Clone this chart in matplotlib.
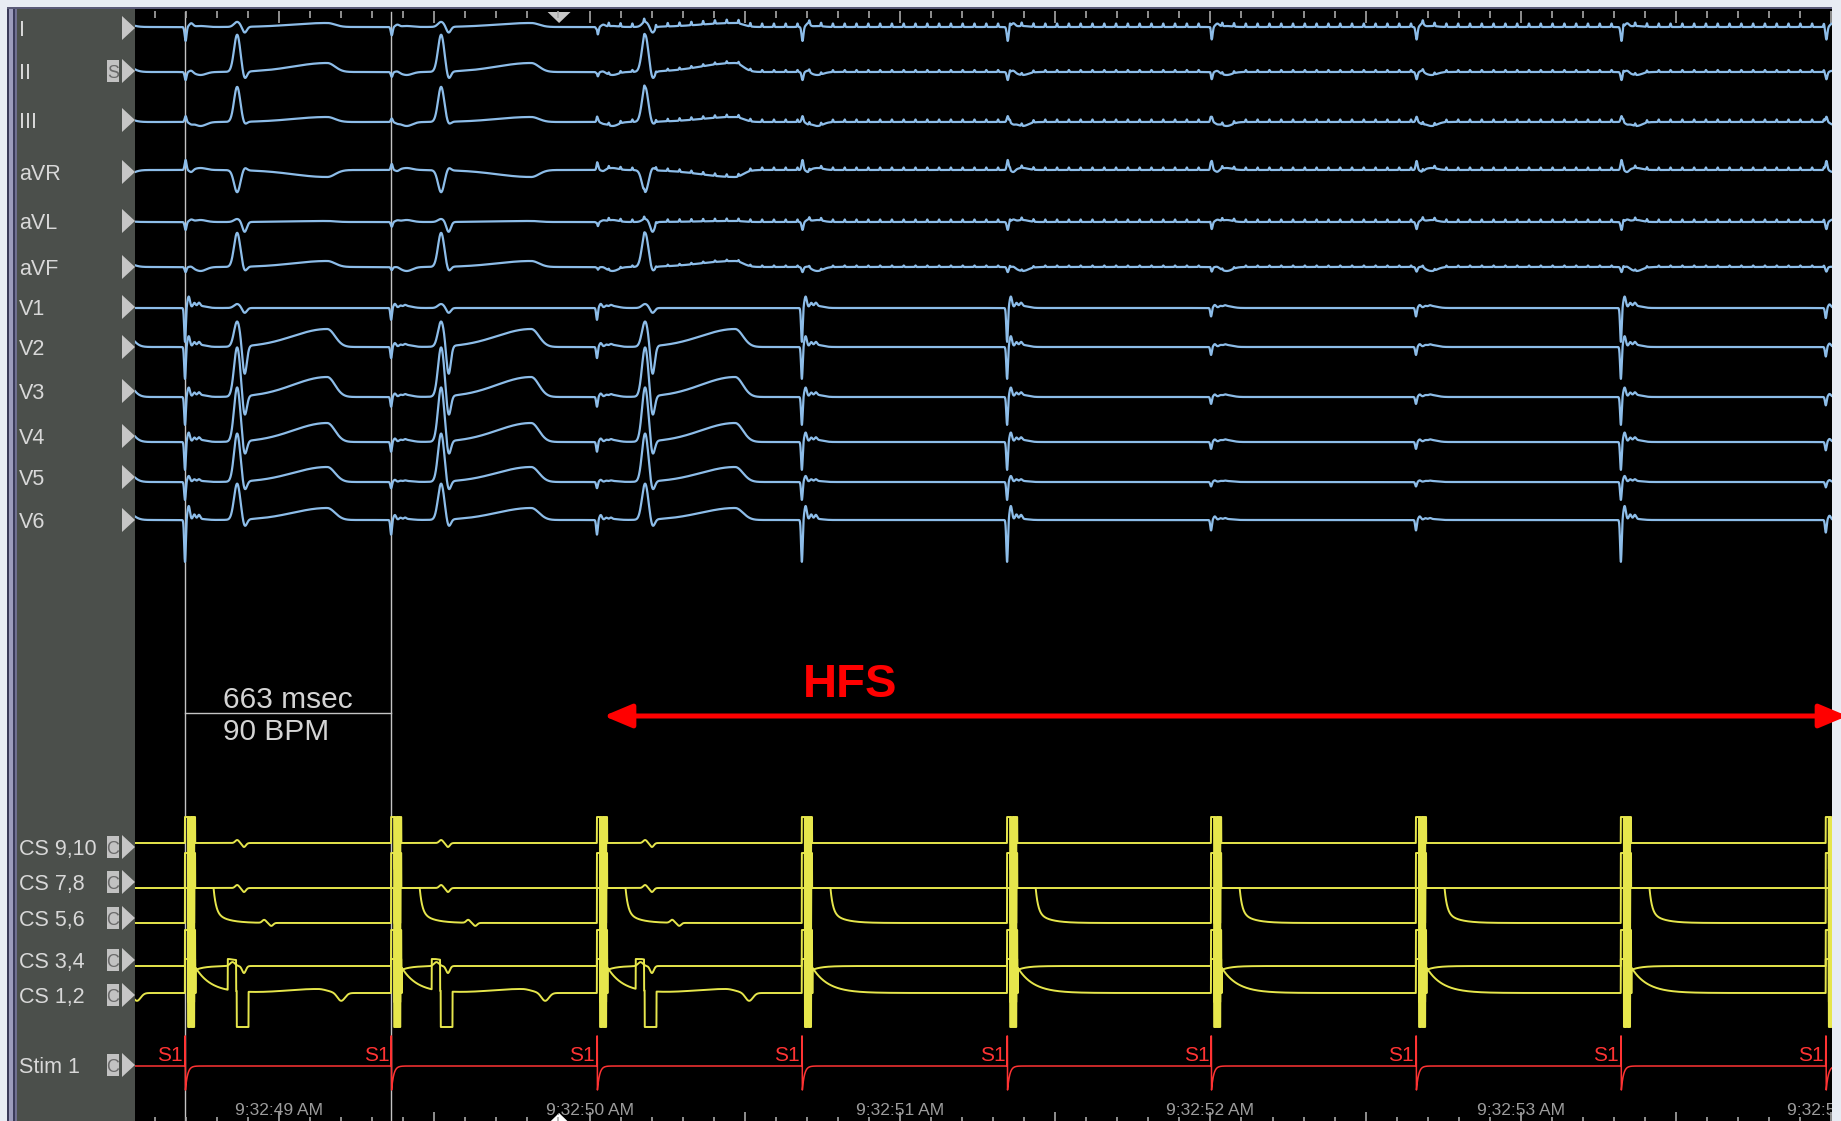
import numpy as np
import matplotlib
matplotlib.use("Agg")
import matplotlib.pyplot as plt
from matplotlib.patches import Rectangle, Polygon, FancyArrowPatch

# ---------------- values ----------------
# time axis: seconds after 9:32:00
XLIM = (48.536, 54.002)
TIME_LABEL_SECONDS = [49, 50, 51, 52, 53, 54]
S1_TIMES = [48.697, 49.361, 50.024, 50.684, 51.345, 52.002, 52.662, 53.322, 53.982]
QRS_TIMES = [48.207, 48.865, 49.522, 50.179]          # conducted beats (first before window)
V_STIM_SCALE = [1.0, 0.35, 0.35, 1.0, 1.0, 0.25, 0.25, 1.0, 0.3]
LIMB_STIM_SCALE = [1.0, 0.6, 0.6, 1.0, 1.0, 0.9, 0.9, 1.0, 0.9]
HFS_START, HFS_END = 50.024, 54.06
HFS_TICK_PERIOD = 0.038
MARKER_T = 49.902
CALIPER_MS, CALIPER_BPM = 663, 90

SURFACE_LEADS = ['I', 'II', 'III', 'aVR', 'aVL', 'aVF', 'V1', 'V2', 'V3', 'V4', 'V5', 'V6']
R_AMP = [5, 37, 35, -22, 3, 34, 4, 25, 49, 54, 48, 36]
S_AMP = [-6, -8, -3, 3, -10, -5, -5, -29, -21, -15, -10, -8]
T_AMP = [4, 9, 5, -7, 1, 6, 0, 18, 20, 19, 15, 12]
P_AMP = [1, -3, -4, 2, 2, -4, 2, 2, 2, 2, 1, 1]
STIM_AMP = [-14, -8, 6, 10, -8, -5, -34, -32, -28, -28, -18, -42]
HFS_TICK_AMP = [3.5, 2, 2.5, 2.5, 2.5, 1.5, 0, 0, 0, 0, 0, 0]

CS_LEADS = ['CS 9,10', 'CS 7,8', 'CS 5,6', 'CS 3,4', 'CS 1,2']
CS_CLIP = [26, 35, 35, 36, 34]
STIM_LABEL = 'Stim 1'

# ---------------- layout (pixel rows) ----------------
W, H, DPI = 1841, 1121, 100
SURF_ROW = [27, 72, 122, 170, 222, 267, 308, 347, 397, 442, 482, 520]
SURF_LABEL_ROW = [28, 71, 120, 172, 221, 267, 307, 347, 391, 436, 477, 520]
CS_ROW = [843, 888, 923, 966, 993]
CS_LABEL_ROW = [847, 882, 918, 960, 995]
STIM_ROW, STIM_LABEL_ROW = 1066, 1065

BLUE = '#8dbde9'
YELLOW = '#e6e64c'
RED = '#ff3333'
FONT = 'Liberation Sans'

# ---------------- signal construction ----------------
t = np.arange(XLIM[0] - 0.01, XLIM[1] + 0.01, 0.0005)


def g(c, w):
    return np.exp(-0.5 * ((t - c) / w) ** 2)


def asym(c, wl, wr):
    w = np.where(t < c, wl, wr)
    return np.exp(-0.5 * ((t - c) / w) ** 2)


def box(a, b):
    return ((t >= a) & (t < b)).astype(float)


def decay(start, tau):
    return np.where(t >= start, np.exp(-np.clip(t - start, 0, None) / tau), 0.0)


def surface(i):
    y = np.zeros_like(t)
    for q in QRS_TIMES:
        y += R_AMP[i] * g(q, 0.010) + S_AMP[i] * g(q + 0.024, 0.007)
        y += T_AMP[i] * asym(q + 0.29, 0.11, 0.025)
    for k, ts in enumerate(S1_TIMES):
        if i >= 6:
            a = STIM_AMP[i] * V_STIM_SCALE[k]
            y += a * (g(ts, 0.0025) - 0.33 * g(ts + 0.012, 0.004)
                      - 0.12 * g(ts + 0.03, 0.004) - 0.1 * g(ts + 0.045, 0.004))
        else:
            a = STIM_AMP[i] * LIMB_STIM_SCALE[k]
            y += a * (g(ts + 0.002, 0.003) - 0.25 * g(ts + 0.02, 0.006))
        y += P_AMP[i] * g(ts + 0.05, 0.018)
    if HFS_TICK_AMP[i]:
        for tk in np.arange(HFS_START, XLIM[1] + 0.01, HFS_TICK_PERIOD):
            y += HFS_TICK_AMP[i] * g(tk, 0.0015)
    return y


# stimulus artefact in the CS bipoles: alternating saturated pulses
ART_EDGES = [0.0, 0.010, 0.014, 0.018, 0.022, 0.026, 0.030, 0.033]


def cs(j):
    y = np.zeros_like(t)
    for ts in S1_TIMES:
        for n in range(len(ART_EDGES) - 1):
            sign = 1 if n % 2 == 0 else -1
            y += 80 * sign * box(ts + ART_EDGES[n], ts + ART_EDGES[n + 1])
        if j == 2:
            y += 40 * box(ts + 0.033, ts + 0.092)
            y += 24 * decay(ts + 0.092, 0.008) + 11 * decay(ts + 0.092, 0.04)
        elif j == 3:
            y += -4 * decay(ts + 0.033, 0.03)
        elif j == 4:
            y += 25 * decay(ts + 0.035, 0.05)
    for q in QRS_TIMES:
        if j in (0, 1):
            y += 3 * g(q, 0.006) - 4 * g(q + 0.022, 0.006)
        elif j == 2:
            y += 3 * g(q + 0.087, 0.006) - 3 * g(q + 0.11, 0.006)
        elif j == 3:
            y += 4 * g(q - 0.015, 0.008) - 7 * g(q + 0.022, 0.006)
        else:
            y += 31 * box(q - 0.030, q - 0.003) - 60 * box(q - 0.001, q + 0.037)
            y += 4 * asym(q + 0.26, 0.1, 0.03) - 8 * g(q + 0.335, 0.012)
    return np.clip(y, -CS_CLIP[j], CS_CLIP[j])


def stim():
    y = np.zeros_like(t)
    for ts in S1_TIMES:
        y += 30 * box(ts, ts + 0.0015) - 24 * decay(ts + 0.0015, 0.007)
    return y


# ---------------- figure & chrome ----------------
fig = plt.figure(figsize=(W / DPI, H / DPI), dpi=DPI)
fig.patch.set_facecolor('#e8ecf4')
bg = fig.add_axes([0, 0, 1, 1])
bg.set_xlim(0, W)
bg.set_ylim(H, 0)
bg.axis('off')

bg.add_patch(Rectangle((135, 9), 1832 - 135, H - 9, fc='black', ec='none'))
bg.add_patch(Rectangle((17, 9), 118, H - 9, fc='#4b4f4b', ec='none'))
for x0, w, c in [(7, 2, '#3a3a5a'), (9, 4, '#9c9cbc'), (13, 2, '#3a3a5a'), (15, 2, '#707090')]:
    bg.add_patch(Rectangle((x0, 7), w, H - 7, fc=c, ec='none'))
bg.add_patch(Rectangle((7, 7), 1832 - 7, 2, fc='#5a5a78', ec='none'))

# channel labels, triangles and boxes
for name, yl in zip(SURFACE_LEADS, SURF_LABEL_ROW):
    bg.text(19, yl + 8, name, ha='left', va='baseline', color='#d8d8d8',
            fontsize=15.5, family=FONT)
    bg.add_patch(Polygon([(122, yl - 12), (122, yl + 12), (135, yl)], closed=True,
                         fc='#c6c6c6', ec='none'))


def letter_box(yl, ch):
    bg.add_patch(Rectangle((107, yl - 11), 12, 22, fc='#c2c2c2', ec='none'))
    bg.text(113, yl + 7, ch, ha='center', va='baseline', color='#6a6a6a',
            fontsize=13, family=FONT)


letter_box(SURF_LABEL_ROW[1], 'S')
for name, yl in zip(CS_LEADS + [STIM_LABEL], CS_LABEL_ROW + [STIM_LABEL_ROW]):
    bg.text(19, yl + 8, name, ha='left', va='baseline', color='#d8d8d8',
            fontsize=15.5, family=FONT)
    bg.add_patch(Polygon([(122, yl - 12), (122, yl + 12), (135, yl)], closed=True,
                         fc='#c6c6c6', ec='none'))
    letter_box(yl, 'C')

# ---------------- main data axes ----------------
ax = fig.add_axes([135 / W, 0, (1832 - 135) / W, (H - 9) / H])
ax.set_xlim(*XLIM)
ax.set_ylim(H, 9)
ax.axis('off')

# top and bottom time ticks
for tk in np.arange(np.ceil(XLIM[0] * 10) / 10, XLIM[1] + 1e-6, 0.1):
    major = abs(tk * 2 - round(tk * 2)) < 1e-6
    ax.plot([tk, tk], [11, 23 if major else 18], color='#a8a8a8', lw=1.2, solid_capstyle='butt')
    ax.plot([tk, tk], [H, H - (9 if major else 4)], color='#a8a8a8', lw=1.2, solid_capstyle='butt')
ax.add_patch(Polygon([(MARKER_T - 0.037, 12), (MARKER_T + 0.037, 12), (MARKER_T, 23)],
                     closed=True, fc='#c8c8c8', ec='none'))
ax.add_patch(Polygon([(MARKER_T - 0.03, H + 1), (MARKER_T + 0.03, H + 1), (MARKER_T, H - 8)],
                     closed=True, fc='white', ec='none', clip_on=False))

# caliper
c0, c1 = S1_TIMES[0], S1_TIMES[1]
for c in (c0, c1):
    ax.plot([c, c], [12, H], color='#c4c4c4', lw=1.0, zorder=1)
ax.plot([c0, c1], [713, 713], color='#c4c4c4', lw=1.0, zorder=1)
ax.text(c0 + 0.122, 708, f'{CALIPER_MS} msec', ha='left', va='baseline', color='#d4d4d4',
        fontsize=21.5, family=FONT)
ax.text(c0 + 0.122, 740, f'{CALIPER_BPM} BPM', ha='left', va='baseline', color='#d4d4d4',
        fontsize=21.5, family=FONT)

# surface ECG traces
for i, row in enumerate(SURF_ROW):
    ax.plot(t, row - surface(i), color=BLUE, lw=1.6, zorder=3)

# CS traces
for j, row in enumerate(CS_ROW):
    ax.plot(t, row - cs(j), color=YELLOW, lw=1.4, zorder=3)

# stim channel
ax.plot(t, STIM_ROW - stim(), color=RED, lw=1.1, zorder=3)
for ts in S1_TIMES:
    ax.text(ts - 0.006, 1061, 'S1', ha='right', va='baseline', color=RED,
            fontsize=15, family=FONT, clip_on=True)

# time labels (the last one is cut by the panel edge, as in the recording)
for s in TIME_LABEL_SECONDS:
    ax.text(s, 1115, f'9:32:{s:02d} AM', ha='center', va='baseline', color='#9c9c9c',
            fontsize=12.5, family=FONT, clip_on=True)

# HFS annotation
ax.text(S1_TIMES[3] + 0.004, 697, 'HFS', ha='left', va='baseline', color='#ff0000',
        fontsize=34, fontweight='bold', family=FONT)
arr = FancyArrowPatch((HFS_START + 0.013, 716), (HFS_END, 716),
                      arrowstyle='<|-|>,head_length=1.0,head_width=0.42',
                      mutation_scale=17, color='#ff0000', lw=3.6, clip_on=False, zorder=5)
ax.add_patch(arr)

fig.savefig('out.png', dpi=DPI, facecolor=fig.get_facecolor())
